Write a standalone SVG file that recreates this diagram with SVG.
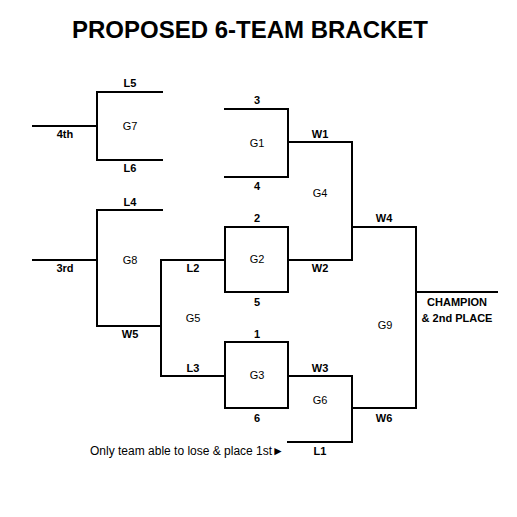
<svg xmlns="http://www.w3.org/2000/svg" width="517" height="517" viewBox="0 0 517 517">
<style>
.ln{fill:none;stroke:#000;stroke-width:2;stroke-linecap:square}
text{font-family:"Liberation Sans",Arial,sans-serif;font-size:11px;fill:#000;text-anchor:middle}
.b{font-weight:bold}
.t{font-size:24px;font-weight:bold}
.n{font-size:12px;text-anchor:end}
</style>
<rect width="517" height="517" fill="#fff"/>
<text class="t" x="250" y="38">PROPOSED 6-TEAM BRACKET</text>
<g id="connectors">
<path class="ln" d="M33,126H97"/>
<path class="ln" d="M33,260H97"/>
<path class="ln" d="M97,326H161"/>
<path class="ln" d="M161,260H225"/>
<path class="ln" d="M161,376H225"/>
<path class="ln" d="M288,142H352"/>
<path class="ln" d="M288,260H352"/>
<path class="ln" d="M288,376H352"/>
<path class="ln" d="M288,442H352"/>
<path class="ln" d="M352,227H416"/>
<path class="ln" d="M352,408H416"/>
<path class="ln" d="M416,292H497"/>
</g>
<g id="G7">
<path class="ln" d="M162,92H97V160H162"/>
<text x="130" y="130">G7</text>
</g>
<g id="G8">
<path class="ln" d="M162,210H97V326"/>
<text x="130" y="264">G8</text>
</g>
<g id="G5">
<path class="ln" d="M161,260V376"/>
<text x="193" y="322">G5</text>
</g>
<g id="G1">
<path class="ln" d="M225,109H288V177H225"/>
<text x="257" y="147">G1</text>
</g>
<g id="G2">
<path class="ln" d="M225,227H288V292H225Z"/>
<text x="257" y="263">G2</text>
</g>
<g id="G3">
<path class="ln" d="M225,342H288V408H225Z"/>
<text x="257" y="379">G3</text>
</g>
<g id="G4">
<path class="ln" d="M352,142V260"/>
<text x="320" y="197">G4</text>
</g>
<g id="G6">
<path class="ln" d="M352,376V442"/>
<text x="320" y="404">G6</text>
</g>
<g id="G9">
<path class="ln" d="M416,227V408"/>
<text x="385" y="329">G9</text>
</g>
<g id="labels">
<text class="b" x="130" y="87">L5</text>
<text class="b" x="130" y="172">L6</text>
<text class="b" x="130" y="206">L4</text>
<text class="b" x="65" y="138">4th</text>
<text class="b" x="65" y="272">3rd</text>
<text class="b" x="130" y="338">W5</text>
<text class="b" x="193" y="272">L2</text>
<text class="b" x="193" y="372">L3</text>
<text class="b" x="257" y="104">3</text>
<text class="b" x="257" y="190">4</text>
<text class="b" x="257" y="222">2</text>
<text class="b" x="257" y="306">5</text>
<text class="b" x="257" y="338">1</text>
<text class="b" x="257" y="422">6</text>
<text class="b" x="320" y="138">W1</text>
<text class="b" x="320" y="272">W2</text>
<text class="b" x="320" y="372">W3</text>
<text class="b" x="320" y="455">L1</text>
<text class="b" x="384" y="222">W4</text>
<text class="b" x="384" y="422">W6</text>
<text class="b" x="457" y="306">CHAMPION</text>
<text class="b" x="457" y="322">&amp; 2nd PLACE</text>
<text class="n" x="284" y="455">Only team able to lose &amp; place 1st►</text>
</g>
</svg>
